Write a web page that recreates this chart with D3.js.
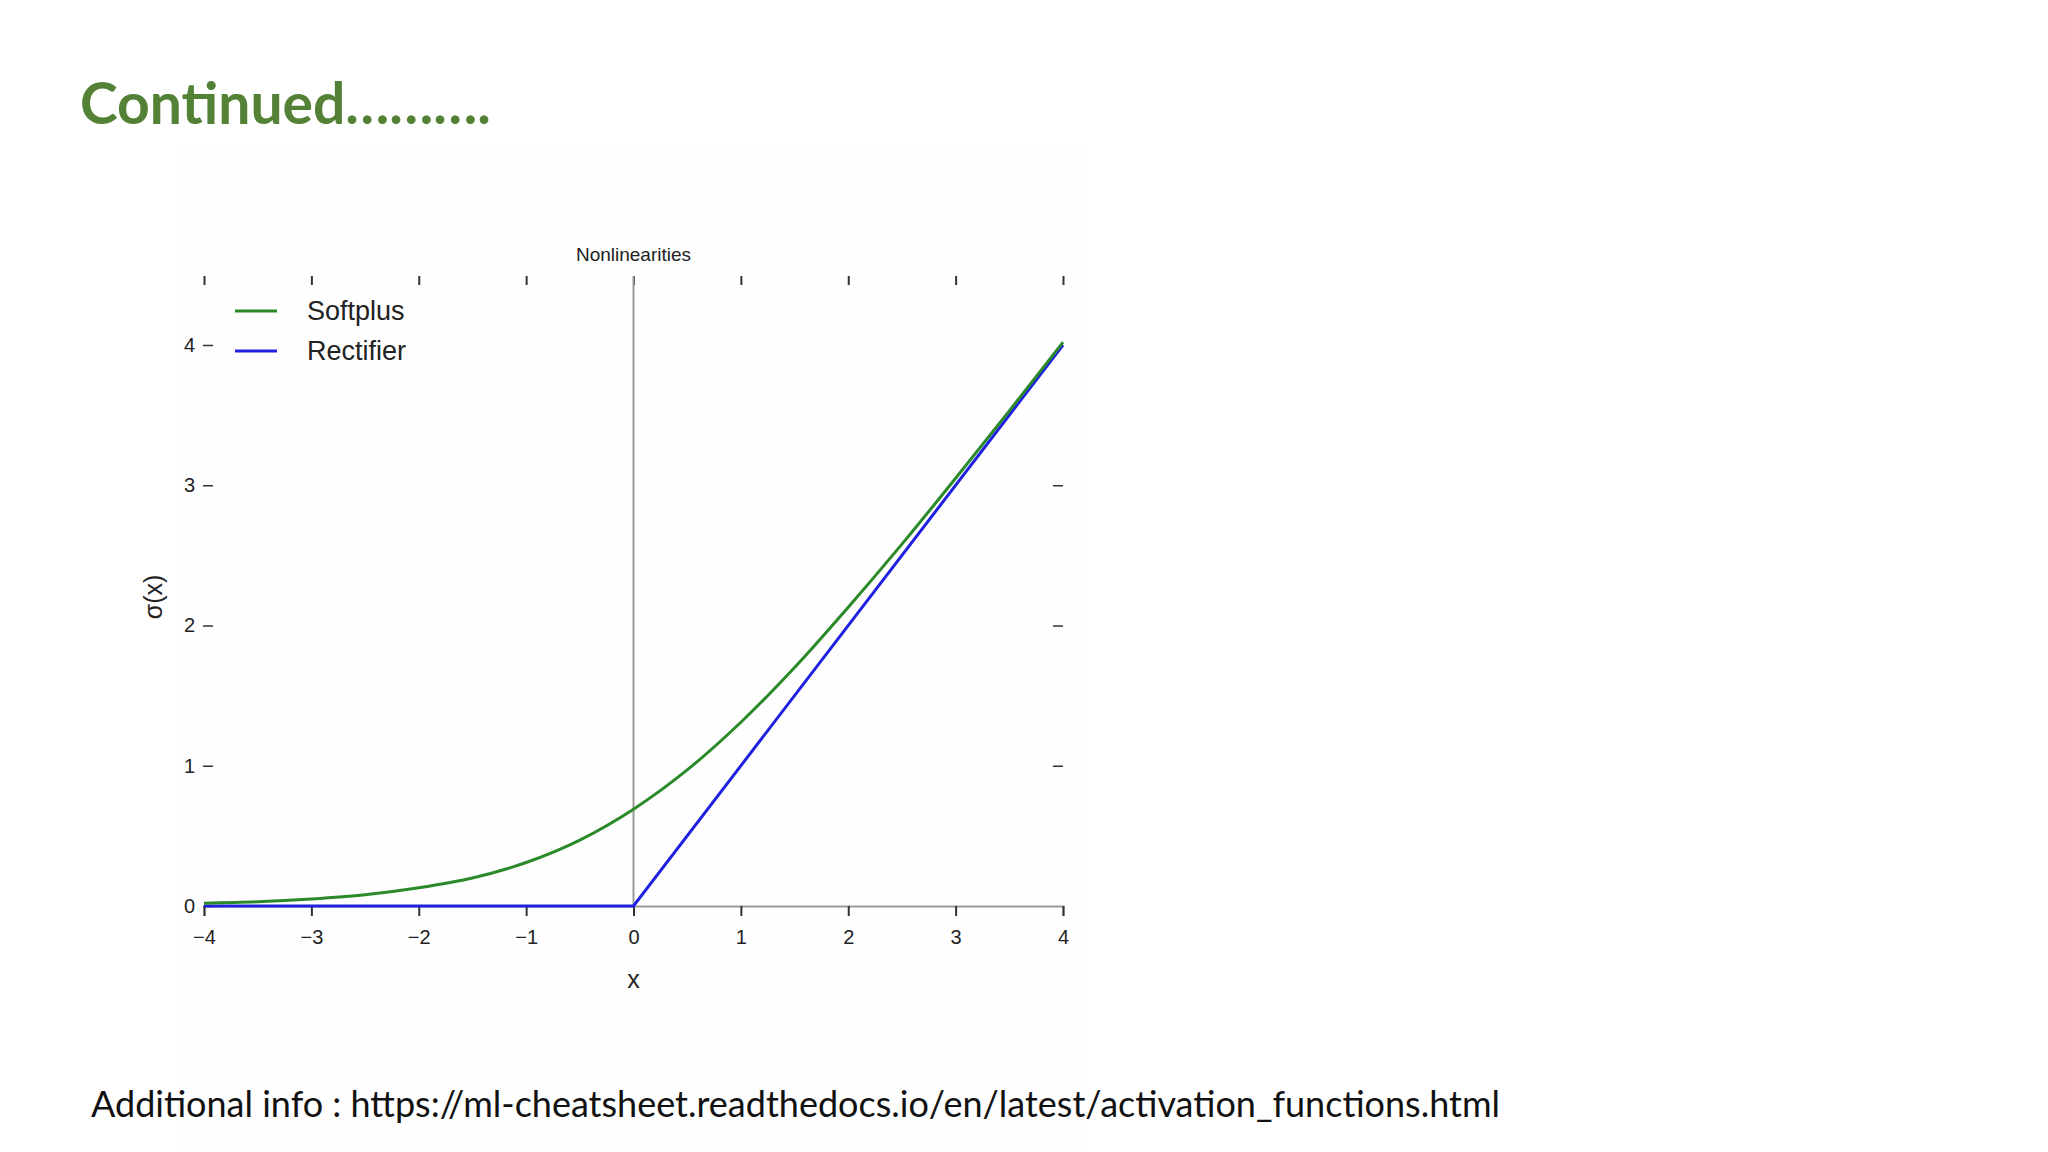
<!DOCTYPE html>
<html><head><meta charset="utf-8">
<script src="https://cdn.jsdelivr.net/npm/d3@7"></script>
<style>body{margin:0;background:#fff}</style>
</head><body>
<script>
var xTicks = [-4, -3, -2, -1, 0, 1, 2, 3, 4];
var yTicks = [0, 1, 2, 3, 4];
var softplusX = [-4, -3.5, -3, -2.5, -2, -1.5, -1, -0.5, 0, 0.5, 1, 1.5, 2, 2.5, 3, 3.5, 4];
var softplusY = [0.02, 0.03, 0.05, 0.08, 0.13, 0.20, 0.31, 0.47, 0.69, 0.97, 1.31, 1.70, 2.13, 2.58, 3.05, 3.53, 4.02];
var rectX = [-4, 0, 4];
var rectY = [0, 0, 4];
var legendNames = ["Softplus", "Rectifier"];
var legendColors = ["#2a8a2a", "#2020e0"];

var width = 2048, height = 1152;
var svg = d3.select("body").append("svg").attr("width", width).attr("height", height);

svg.append("rect").attr("x", 176).attr("y", 145).attr("width", 910).attr("height", 1005).attr("fill", "#fefefe");

svg.append("text").attr("x", 80).attr("y", 124)
  .attr("font-family", "Lato, 'Open Sans', sans-serif").attr("font-weight", "bold")
  .attr("font-size", 57).attr("fill", "#538135").text("Continued……….");

svg.append("text").attr("x", 91).attr("y", 1117)
  .attr("font-family", "Lato, 'Open Sans', sans-serif")
  .attr("font-size", 36).attr("fill", "#111")
  .text("Additional info : https://ml-cheatsheet.readthedocs.io/en/latest/activation_functions.html");

var x = d3.scaleLinear().domain([-4, 4]).range([204, 1063]);
var y = d3.scaleLinear().domain([0, 4]).range([906, 345]);
var font = "'Liberation Sans', Arial, sans-serif";

// bottom axis
var xa = svg.append("g").attr("transform", "translate(0,906)")
  .call(d3.axisBottom(x).tickValues(xTicks).tickSize(10).tickPadding(14).tickFormat(d => d < 0 ? "−" + (-d) : d));
xa.select(".domain").attr("stroke", "#999").attr("stroke-width", 2);
xa.selectAll(".tick line").attr("stroke", "#333").attr("stroke-width", 2);
xa.selectAll("text").attr("font-family", font).attr("font-size", 20).attr("fill", "#222");

// top ticks
svg.append("g").attr("transform", "translate(0,276)")
  .call(d3.axisBottom(x).tickValues(xTicks).tickSize(9).tickFormat(""))
  .call(g => g.select(".domain").remove())
  .selectAll(".tick line").attr("stroke", "#333").attr("stroke-width", 2);

// left axis
var ya = svg.append("g").attr("transform", "translate(203,0)")
  .call(d3.axisRight(y).tickValues(yTicks).tickSize(10).tickPadding(-18).tickFormat(d3.format("d")));
ya.select(".domain").remove();
ya.selectAll(".tick line").attr("stroke", "#333").attr("stroke-width", 1.5);
ya.selectAll("text").attr("font-family", font).attr("font-size", 20).attr("fill", "#222").attr("text-anchor", "end");

// right ticks
svg.append("g").attr("transform", "translate(1063,0)")
  .call(d3.axisLeft(y).tickValues([1, 2, 3]).tickSize(10).tickFormat(""))
  .call(g => g.select(".domain").remove())
  .selectAll(".tick line").attr("stroke", "#333").attr("stroke-width", 1.5);

// vertical zero line
svg.append("line").attr("x1", x(0)).attr("x2", x(0)).attr("y1", 276).attr("y2", y(0))
  .attr("stroke", "#999").attr("stroke-width", 2);

svg.append("text").attr("x", x(0)).attr("y", 261).attr("text-anchor", "middle")
  .attr("font-family", font).attr("font-size", 19).attr("fill", "#222").text("Nonlinearities");
svg.append("text").attr("x", x(0)).attr("y", 988).attr("text-anchor", "middle")
  .attr("font-family", font).attr("font-size", 25).attr("fill", "#222").text("x");
svg.append("text").attr("transform", "translate(162,597) rotate(-90)").attr("text-anchor", "middle")
  .attr("font-family", font).attr("font-size", 25).attr("fill", "#222").text("σ(x)");

var line = d3.line().x(d => x(d[0])).y(d => y(d[1]));
svg.append("path").datum(rectX.map((v, i) => [v, rectY[i]]))
  .attr("d", line).attr("fill", "none").attr("stroke", legendColors[1]).attr("stroke-width", 3);
svg.append("path").datum(softplusX.map((v, i) => [v, softplusY[i]]))
  .attr("d", line.curve(d3.curveMonotoneX)).attr("fill", "none").attr("stroke", legendColors[0]).attr("stroke-width", 3);

var lg = svg.append("g").selectAll("g").data(legendNames).enter().append("g")
  .attr("transform", (d, i) => "translate(235," + (311 + i * 40) + ")");
lg.append("line").attr("x1", 0).attr("x2", 42).attr("stroke", (d, i) => legendColors[i]).attr("stroke-width", 3);
lg.append("text").attr("x", 72).attr("y", 9).attr("font-family", font).attr("font-size", 27)
  .attr("fill", "#222").text(d => d);
</script>
</body></html>
